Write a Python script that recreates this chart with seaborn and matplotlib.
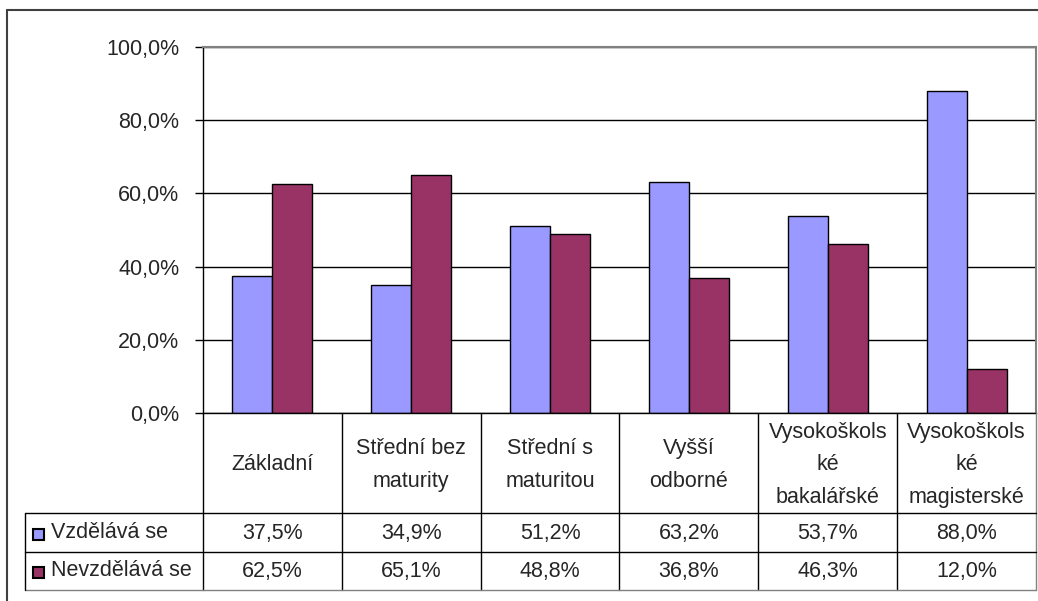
import matplotlib
matplotlib.use("Agg")
import matplotlib.pyplot as plt
import matplotlib.transforms as mtransforms
from matplotlib.lines import Line2D
from matplotlib.patches import Rectangle
from matplotlib.ticker import FuncFormatter, MultipleLocator
import pandas as pd
import seaborn as sns

categories = ["Základní", "Střední bez\nmaturity", "Střední s\nmaturitou", "Vyšší\nodborné",
              "Vysokoškols\nké\nbakalářské", "Vysokoškols\nké\nmagisterské"]
series = ["Vzdělává se", "Nevzdělává se"]
vzdelava = [37.5, 34.9, 51.2, 63.2, 53.7, 88.0]
nevzdelava = [62.5, 65.1, 48.8, 36.8, 46.3, 12.0]
colors = ["#9999FF", "#993366"]

df = pd.DataFrame({"kat": categories * 2,
                   "serie": [series[0]] * len(categories) + [series[1]] * len(categories),
                   "hodnota": vzdelava + nevzdelava})

sns.set_style("white")
plt.rcParams["font.family"] = ["Liberation Sans", "DejaVu Sans"]

W, H = 1038, 601
fs = 15.5
fig = plt.figure(figsize=(W / 100, H / 100), dpi=100)
fy = lambda y: 1 - y / H

ax = fig.add_axes([203 / W, fy(413), (1036 - 203) / W, (413 - 47) / H])
sns.barplot(data=df, x="kat", y="hodnota", hue="serie", palette=colors, width=0.576, gap=0,
            edgecolor="black", linewidth=1, saturation=1, legend=False, ax=ax)

def pct(v, pos=None):
    return f"{v:.1f}%".replace(".", ",")

ax.set_ylim(0, 100)
ax.set_xlim(-0.5, len(categories) - 0.5)
ax.yaxis.set_major_locator(MultipleLocator(20))
ax.yaxis.set_major_formatter(FuncFormatter(pct))
ax.yaxis.grid(True, color="black", lw=1)
ax.set_axisbelow(True)
ax.set_xticks([])
ax.set_xlabel("")
ax.set_ylabel("")
ax.tick_params(axis="y", left=True, length=6, width=1, color="black", labelsize=fs, pad=11)
for s in ["left", "bottom"]:
    ax.spines[s].set_color("black")
    ax.spines[s].set_linewidth(1)
for s in ["top", "right"]:
    ax.spines[s].set_color("#808080")
    ax.spines[s].set_linewidth(1.5)

# data table under the plot
trans = mtransforms.blended_transform_factory(ax.transData, fig.transFigure)
x_right = ax.get_position().x1
for i in range(len(categories) + 1):
    c = "#808080" if i == len(categories) else "black"
    fig.add_artist(Line2D([i - 0.5, i - 0.5], [fy(413), fy(590)], color=c, lw=1, transform=trans))
for y, c in [(513, "black"), (552, "black"), (590, "#808080")]:
    fig.add_artist(Line2D([25 / W, x_right], [fy(y), fy(y)], color=c, lw=1, transform=fig.transFigure))
fig.add_artist(Line2D([25 / W, 25 / W], [fy(513), fy(590)], color="black", lw=1, transform=fig.transFigure))

for i, cat in enumerate(categories):
    fig.text(i, fy(465), cat, transform=trans, ha="center", va="center", fontsize=fs, linespacing=1.7)
    fig.text(i, fy(533), pct(vzdelava[i]), transform=trans, ha="center", va="center", fontsize=fs)
    fig.text(i, fy(571), pct(nevzdelava[i]), transform=trans, ha="center", va="center", fontsize=fs)

# legend keys in the row headers
for name, col, yc in [(series[0], colors[0], 534), (series[1], colors[1], 572)]:
    fig.add_artist(Rectangle((33 / W, fy(yc + 6)), 11 / W, 11 / H, facecolor=col, edgecolor="black",
                             lw=1.5, transform=fig.transFigure))
    fig.text(51 / W, fy(yc - 1), name, ha="left", va="center", fontsize=fs)

# outer chart frame
fig.add_artist(Line2D([7 / W, 7 / W], [fy(10), 0], color="#404040", lw=1.5, transform=fig.transFigure))
fig.add_artist(Line2D([7 / W, 1], [fy(10), fy(10)], color="#404040", lw=1.5, transform=fig.transFigure))

fig.savefig("out.png", dpi=100)
